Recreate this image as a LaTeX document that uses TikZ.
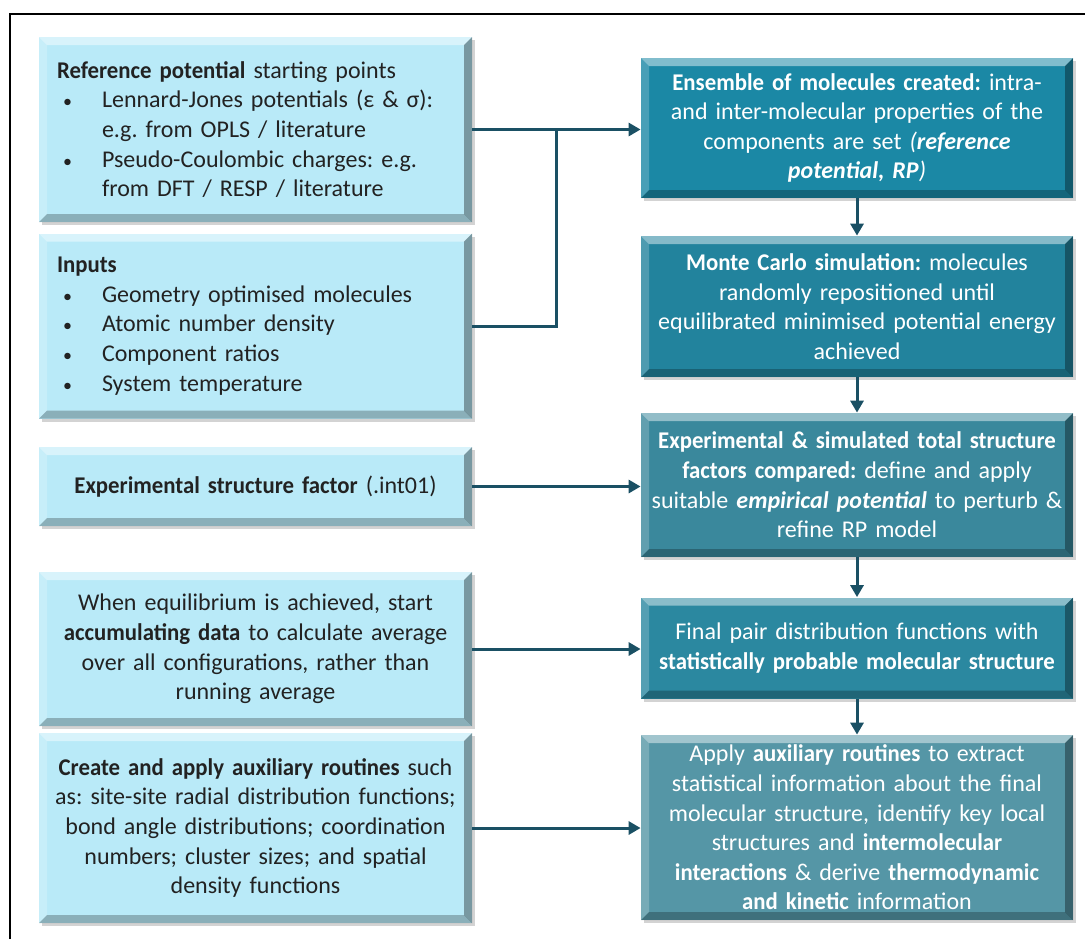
\documentclass[tikz,border=0pt]{standalone}
\usepackage{fontspec}
\setmainfont{Carlito}[BoldFeatures={FakeStretch=0.95}]
\usetikzlibrary{arrows.meta}
\usetikzlibrary{calc}
\usetikzlibrary{shadows}

\definecolor{inputfill}{HTML}{B9EAF8}
\definecolor{inputtext}{HTML}{222222}
\definecolor{linkcol}{HTML}{1A5064}
\definecolor{stepA}{HTML}{1B88A5}
\definecolor{stepB}{HTML}{22839D}
\definecolor{stepC}{HTML}{3A889C}
\definecolor{stepD}{HTML}{2B88A0}
\definecolor{stepE}{HTML}{5596A6}

\newcommand{\bul}{\hspace*{3pt}\makebox[19.5pt][l]{\fontsize{9}{9}\selectfont\textbullet}}
\newcommand{\ind}{\hspace*{22.5pt}}

\tikzset{
  bevel/.style={path picture={
    \fill[white,opacity=.45] (path picture bounding box.north west) -- (path picture bounding box.north east)
      -- ++(-4pt,-4pt) -- ($(path picture bounding box.north west)+(4pt,-4pt)$) -- cycle;
    \fill[white,opacity=.2] (path picture bounding box.north west) -- ++(4pt,-4pt)
      -- ($(path picture bounding box.south west)+(4pt,4pt)$) -- (path picture bounding box.south west) -- cycle;
    \fill[black,opacity=.35] (path picture bounding box.north east) -- (path picture bounding box.south east)
      -- ++(-4pt,4pt) -- ($(path picture bounding box.north east)+(-4pt,-4pt)$) -- cycle;
    \fill[black,opacity=.25] (path picture bounding box.south west) -- (path picture bounding box.south east)
      -- ++(-4pt,4pt) -- ($(path picture bounding box.south west)+(4pt,4pt)$) -- cycle;
  }},
  boxbase/.style={rectangle, bevel, inner ysep=1pt,
    drop shadow={shadow xshift=1.5pt, shadow yshift=-1.5pt, opacity=.35},
    font=\fontsize{12}{14.8}\selectfont\frenchspacing},
  inputbox/.style={boxbase, fill=inputfill, text=inputtext,
    text width=216.5pt, inner xsep=0pt, align=center},
  listbox/.style={inputbox, text width=198.5pt, inner xsep=9pt, align=left},
  stepbox/.style={boxbase, fill=#1, text=white,
    text width=216pt, inner xsep=0pt, align=center},
  link/.style={draw=linkcol, line width=1.5pt},
  flow/.style={link, -{Triangle[length=6pt,width=6.5pt]}}
}

\begin{document}
\begin{tikzpicture}[x=0.5pt,y=-0.5pt]
  \useasboundingbox (0,0) rectangle (1085,939);
  \draw[line width=1.3pt] (10,939) -- (10,14) -- (1085,14);

  % inputs on the left
  \node[listbox, minimum height=92.5pt] (ref) at (255.5,129.5)
    {\textbf{Reference potential} starting points\\
     \bul Lennard-Jones potentials (ε \& σ):\\
     \ind e.g. from OPLS / literature\\
     \bul Pseudo-Coulombic charges: e.g.\\
     \ind from DFT / RESP / literature};
  \node[listbox, minimum height=92.5pt] (inp) at (255.5,326)
    {\textbf{Inputs}\\
     \bul Geometry optimised molecules\\
     \bul Atomic number density\\
     \bul Component ratios\\
     \bul System temperature};
  \node[inputbox, minimum height=39.5pt] (sfac) at (255.5,486.5)
    {\textbf{Experimental structure factor} (.int01)};
  \node[inputbox, minimum height=77pt] (accu) at (255.5,649)
    {When equilibrium is achieved, start\\
     \textbf{accumulating data} to calculate average\\
     over all configurations, rather than\\
     running average};
  \node[inputbox, minimum height=95pt] (aux) at (255.5,828)
    {\textbf{Create and apply auxiliary routines} such\\
     as: site-site radial distribution functions;\\
     bond angle distributions; coordination\\
     numbers; cluster sizes; and spatial\\
     density functions};

  % simulation steps on the right
  \node[stepbox=stepA, minimum height=70pt] (ens) at (857,128)
    {\textbf{Ensemble of molecules created:} intra-\\
     and inter-molecular properties of the\\
     components are set \textit{(\textbf{reference}}\\
     \textit{\textbf{potential, RP})}};
  \node[stepbox=stepB, minimum height=70.5pt] (mc) at (857,306.5)
    {\textbf{Monte Carlo simulation:} molecules\\
     randomly repositioned until\\
     equilibrated minimised potential energy\\
     achieved};
  \node[stepbox=stepC, minimum height=72pt] (cmp) at (857,485)
    {\textbf{Experimental \& simulated total structure}\\
     \textbf{factors compared:} define and apply\\
     suitable \textit{\textbf{empirical potential}} to perturb \&\\
     refine RP model};
  \node[stepbox=stepD, minimum height=50.5pt] (pdf) at (857,648)
    {Final pair distribution functions with\\
     \textbf{statistically probable molecular structure}};
  \node[stepbox=stepE, minimum height=92.5pt] (fin) at (857,827.5)
    {Apply \textbf{auxiliary routines} to extract\\
     statistical information about the final\\
     molecular structure, identify key local\\
     structures and \textbf{intermolecular}\\
     \textbf{interactions} \& derive \textbf{thermodynamic}\\
     \textbf{and kinetic} information};

  % connectors
  \coordinate (jn) at ($(ref.east)!0.5!(ref.east -| ens.west)$);
  \draw[flow] (ref.east) -- (ref.east -| ens.west);
  \draw[link] (inp.east) -| (jn);
  \draw[flow] (sfac.east) -- (sfac.east -| cmp.west);
  \draw[flow] (accu.east) -- (accu.east -| pdf.west);
  \draw[flow] (aux.east) -- (aux.east -| fin.west);

  \draw[flow] (ens) -- (mc);
  \draw[flow] (mc) -- (cmp);
  \draw[flow] (cmp) -- (pdf);
  \draw[flow] (pdf) -- (fin);
\end{tikzpicture}
\end{document}
